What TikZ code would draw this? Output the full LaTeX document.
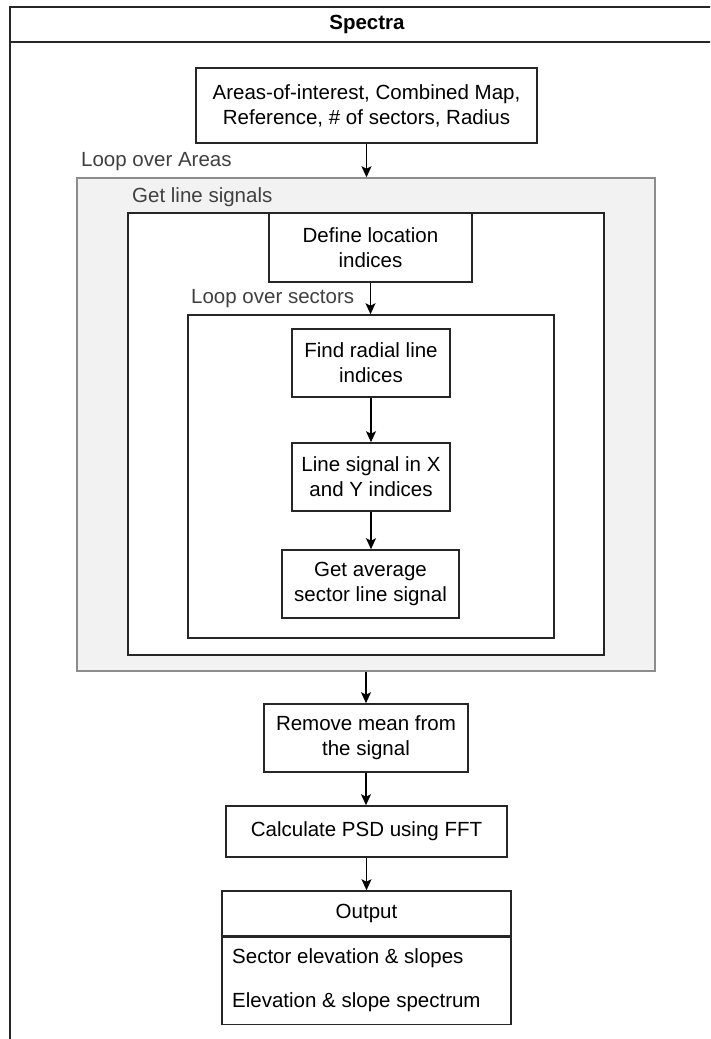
\documentclass[tikz,border=0pt]{standalone}
\usepackage{fontspec}
\setmainfont{Liberation Sans}
\usetikzlibrary{arrows.meta}
\newcommand\txtsize{\fontsize{20.5}{25}\selectfont}
\tikzset{
  box/.style={draw=black!85, line width=1.6pt, fill=white, align=center,
    inner sep=0pt, font=\txtsize},
  loopbox/.style={draw=black!85, line width=1.6pt, fill=white, inner sep=0pt},
  outerloop/.style={draw=black!45, line width=1.5pt, fill=black!5, inner sep=0pt},
  looplabel/.style={anchor=west, inner sep=0pt, text=black!75, font=\txtsize},
  item/.style={anchor=west, inner sep=0pt, font=\txtsize},
  arr/.style={-{Stealth[length=11pt,width=10pt,inset=2.5pt]}, line width=1.6pt, draw=black}
}
\begin{document}
\begin{tikzpicture}[x=1pt, y=-1pt]
\useasboundingbox (0,0) rectangle (710,1039);
\fill[white] (0,0) rectangle (710,1039);

% swimlane frame with title bar (runs past the right and bottom edges)
\begin{scope}
  \clip (0,0) rectangle (710,1039);
  \draw[line width=1.6pt, black!85] (10,1060) -- (10,7) -- (730,7);
  \draw[line width=1.6pt, black!85] (10,42) -- (730,42);
\end{scope}
\node[font=\txtsize\bfseries, inner sep=0pt] (title) at (367,24.5) {Spectra};

% inputs
\node[box, minimum width=341pt, minimum height=75pt] (inputs) at (366.5,105.5)
  {Areas-of-interest, Combined Map,\\Reference, \# of sectors, Radius};

% loop over areas
\node[outerloop, minimum width=578pt, minimum height=493pt] (loopA) at (366,424.5) {};
\node[looplabel] (loopAlbl) at (81,162) {Loop over Areas};

% get line signals
\node[loopbox, minimum width=476pt, minimum height=442pt] (gls) at (366,434) {};
\node[looplabel] (glslbl) at (132,197) {Get line signals};

\node[box, minimum width=203pt, minimum height=69pt] (define) at (370.5,247.5)
  {Define location\\indices};

% loop over sectors
\node[loopbox, minimum width=366pt, minimum height=323pt] (sectors) at (371,476.5) {};
\node[looplabel] (sectlbl) at (191,299) {Loop over sectors};

\node[box, minimum width=158pt, minimum height=68pt] (find) at (371,363)
  {Find radial line\\indices};
\node[box, minimum width=158pt, minimum height=68pt] (linesig) at (371,477)
  {Line signal in X\\and Y indices};
\node[box, minimum width=177pt, minimum height=68pt] (avg) at (370.5,584)
  {Get average\\sector line signal};

% post-processing
\node[box, minimum width=204pt, minimum height=68pt] (remove) at (366,738)
  {Remove mean from\\the signal};
\node[box, minimum width=281pt, minimum height=51pt] (calc) at (366.5,831.5)
  {Calculate PSD using FFT};

% output list
\node[box, minimum width=289pt, minimum height=45pt] (outhead) at (366.5,913.5) {Output};
\node[box, minimum width=289pt, minimum height=87pt, anchor=north] (outbody) at (outhead.south) {};
\node[item] (out1) at (232,958) {Sector elevation \& slopes};
\node[item] (out2) at (232,1002) {Elevation \& slope spectrum};

% connectors
\draw[arr] (inputs.south) -- (inputs.south |- loopA.north);
\draw[arr] (define.south) -- (define.south |- sectors.north);
\draw[arr] (find.south) -- (linesig.north);
\draw[arr] (linesig.south) -- (linesig.south |- avg.north);
\draw[arr] (remove.north |- loopA.south) -- (remove.north);
\draw[arr] (remove.south) -- (remove.south |- calc.north);
\draw[arr] (calc.south) -- (calc.south |- outhead.north);
\end{tikzpicture}
\end{document}
